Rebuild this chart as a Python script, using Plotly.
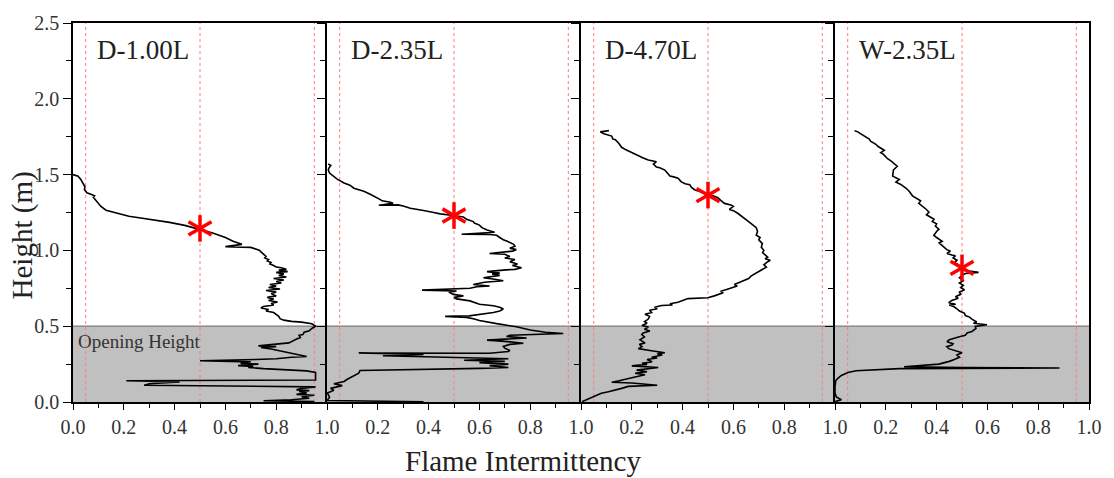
import plotly.graph_objects as go

# ---------------- data: (intermittency, height [m]) ----------------
panel_labels = ["D-1.00L", "D-2.35L", "D-4.70L", "W-2.35L"]

d100 = [(0.00, 1.50), (0.02, 1.49), (0.03, 1.47), (0.04, 1.44), (0.047, 1.42), (0.045, 1.40), (0.055, 1.38),
        (0.07, 1.37), (0.085, 1.36), (0.08, 1.35), (0.09, 1.33), (0.10, 1.31), (0.11, 1.29), (0.13, 1.265),
        (0.16, 1.25), (0.20, 1.235), (0.22, 1.225), (0.26, 1.215), (0.32, 1.20), (0.38, 1.185), (0.44, 1.165),
        (0.50, 1.14), (0.55, 1.115), (0.60, 1.085), (0.63, 1.06), (0.665, 1.04), (0.60, 1.025), (0.70, 1.02),
        (0.72, 1.01), (0.735, 1.00), (0.74, 0.99), (0.745, 0.98), (0.75, 0.975), (0.76, 0.96), (0.755, 0.95),
        (0.77, 0.94), (0.765, 0.93), (0.78, 0.92), (0.775, 0.91), (0.79, 0.90), (0.80, 0.89), (0.82, 0.885),
        (0.84, 0.875), (0.81, 0.87), (0.845, 0.86), (0.80, 0.855), (0.83, 0.845), (0.81, 0.835), (0.84, 0.825),
        (0.79, 0.815), (0.83, 0.805), (0.80, 0.795), (0.82, 0.785), (0.775, 0.775), (0.80, 0.765), (0.77, 0.755),
        (0.815, 0.745), (0.76, 0.735), (0.80, 0.725), (0.78, 0.715), (0.80, 0.70), (0.765, 0.69), (0.79, 0.68),
        (0.77, 0.67), (0.805, 0.66), (0.78, 0.65), (0.79, 0.64), (0.75, 0.63), (0.74, 0.62), (0.77, 0.61),
        (0.76, 0.60), (0.79, 0.59), (0.80, 0.58), (0.81, 0.565), (0.815, 0.55), (0.83, 0.54), (0.86, 0.532),
        (0.90, 0.527), (0.94, 0.516), (0.955, 0.50), (0.94, 0.485), (0.93, 0.47), (0.91, 0.46), (0.905, 0.445),
        (0.89, 0.44), (0.895, 0.425), (0.88, 0.415), (0.86, 0.40), (0.85, 0.39), (0.82, 0.385), (0.76, 0.375),
        (0.73, 0.37), (0.80, 0.365), (0.74, 0.36), (0.78, 0.35), (0.81, 0.34), (0.83, 0.335), (0.87, 0.32),
        (0.92, 0.30), (0.86, 0.295), (0.80, 0.285), (0.72, 0.28), (0.50, 0.272), (0.70, 0.265), (0.66, 0.255),
        (0.73, 0.25), (0.65, 0.24), (0.71, 0.235), (0.69, 0.228), (0.75, 0.22), (0.85, 0.21), (0.92, 0.205),
        (0.955, 0.195), (0.955, 0.16), (0.955, 0.145), (0.21, 0.14), (0.42, 0.132), (0.30, 0.12), (0.28, 0.11),
        (0.955, 0.10), (0.90, 0.09), (0.88, 0.08), (0.93, 0.075), (0.89, 0.07), (0.92, 0.06), (0.88, 0.05),
        (0.95, 0.045), (0.90, 0.035), (0.93, 0.025), (0.86, 0.015), (0.75, 0.008), (0.95, 0.003)]

d235 = [(0.005, 1.57), (0.015, 1.56), (0.008, 1.545), (0.005, 1.53), (0.01, 1.51), (0.027, 1.49), (0.04, 1.47),
        (0.067, 1.445), (0.09, 1.43), (0.106, 1.41), (0.13, 1.40), (0.145, 1.39), (0.17, 1.37), (0.197, 1.35),
        (0.21, 1.335), (0.217, 1.327), (0.25, 1.318), (0.26, 1.31), (0.204, 1.298), (0.28, 1.30), (0.30, 1.293),
        (0.328, 1.278), (0.36, 1.27), (0.38, 1.263), (0.42, 1.25), (0.446, 1.241), (0.497, 1.23), (0.537, 1.22),
        (0.55, 1.205), (0.576, 1.19), (0.58, 1.18), (0.60, 1.167), (0.61, 1.15), (0.63, 1.135), (0.66, 1.12),
        (0.53, 1.107), (0.64, 1.105), (0.668, 1.10), (0.68, 1.085), (0.694, 1.07), (0.71, 1.06), (0.72, 1.05),
        (0.735, 1.04), (0.74, 1.028), (0.72, 1.015), (0.745, 1.005), (0.73, 0.995), (0.64, 0.98), (0.70, 0.975),
        (0.72, 0.96), (0.70, 0.95), (0.74, 0.94), (0.72, 0.925), (0.75, 0.91), (0.73, 0.90), (0.766, 0.885),
        (0.74, 0.875), (0.694, 0.87), (0.63, 0.86), (0.68, 0.85), (0.65, 0.845), (0.68, 0.835), (0.616, 0.82),
        (0.66, 0.81), (0.694, 0.80), (0.62, 0.79), (0.576, 0.775), (0.64, 0.765), (0.59, 0.76), (0.563, 0.75),
        (0.374, 0.738), (0.51, 0.732), (0.48, 0.725), (0.497, 0.71), (0.537, 0.70), (0.50, 0.69), (0.51, 0.68),
        (0.563, 0.667), (0.58, 0.655), (0.60, 0.645), (0.655, 0.635), (0.68, 0.625), (0.694, 0.613), (0.68, 0.60),
        (0.655, 0.59), (0.60, 0.575), (0.56, 0.568), (0.465, 0.565), (0.55, 0.558), (0.58, 0.548), (0.60, 0.538),
        (0.668, 0.517), (0.746, 0.496), (0.80, 0.475), (0.86, 0.46), (0.93, 0.452), (0.80, 0.445), (0.72, 0.44),
        (0.707, 0.432), (0.786, 0.422), (0.70, 0.415), (0.63, 0.408), (0.70, 0.40), (0.773, 0.388), (0.72, 0.38),
        (0.694, 0.367), (0.70, 0.355), (0.72, 0.34), (0.714, 0.333), (0.64, 0.322), (0.125, 0.323), (0.38, 0.314),
        (0.22, 0.305), (0.35, 0.30), (0.51, 0.292), (0.714, 0.285), (0.54, 0.275), (0.70, 0.268), (0.60, 0.26),
        (0.714, 0.25), (0.64, 0.24), (0.714, 0.228), (0.60, 0.222), (0.13, 0.208), (0.125, 0.19), (0.118, 0.184),
        (0.093, 0.165), (0.08, 0.15), (0.067, 0.135), (0.027, 0.12), (0.06, 0.108), (0.014, 0.09), (0.027, 0.078),
        (0.002, 0.06), (0.01, 0.03), (0.0, 0.01), (0.38, 0.002)]

d470 = [(0.11, 1.79), (0.076, 1.782), (0.09, 1.77), (0.10, 1.765), (0.121, 1.754), (0.125, 1.735), (0.135, 1.73),
        (0.147, 1.71), (0.155, 1.69), (0.16, 1.68), (0.175, 1.665), (0.193, 1.65), (0.21, 1.64), (0.226, 1.626),
        (0.245, 1.61), (0.265, 1.596), (0.297, 1.585), (0.285, 1.57), (0.297, 1.55), (0.31, 1.545), (0.33, 1.53),
        (0.34, 1.51), (0.35, 1.49), (0.365, 1.485), (0.382, 1.476), (0.395, 1.452), (0.41, 1.44), (0.428, 1.434),
        (0.435, 1.415), (0.447, 1.40), (0.47, 1.385), (0.498, 1.37), (0.52, 1.36), (0.539, 1.348), (0.55, 1.33),
        (0.565, 1.31), (0.59, 1.30), (0.60, 1.29), (0.584, 1.27), (0.60, 1.262), (0.617, 1.245), (0.63, 1.23),
        (0.643, 1.21), (0.66, 1.19), (0.675, 1.17), (0.69, 1.15), (0.695, 1.125), (0.69, 1.10), (0.705, 1.085),
        (0.70, 1.07), (0.714, 1.045), (0.71, 1.02), (0.72, 1.00), (0.715, 0.985), (0.725, 0.97), (0.735, 0.955),
        (0.725, 0.945), (0.745, 0.935), (0.73, 0.92), (0.72, 0.905), (0.73, 0.89), (0.715, 0.875), (0.701, 0.86),
        (0.69, 0.85), (0.669, 0.83), (0.66, 0.815), (0.636, 0.80), (0.62, 0.79), (0.604, 0.775), (0.615, 0.765),
        (0.591, 0.75), (0.57, 0.74), (0.55, 0.73), (0.56, 0.72), (0.525, 0.70), (0.499, 0.688), (0.421, 0.682),
        (0.40, 0.67), (0.382, 0.658), (0.35, 0.648), (0.36, 0.64), (0.317, 0.637), (0.29, 0.625), (0.30, 0.615),
        (0.27, 0.605), (0.278, 0.59), (0.252, 0.579), (0.27, 0.565), (0.265, 0.547), (0.25, 0.53), (0.26, 0.52),
        (0.24, 0.505), (0.265, 0.495), (0.25, 0.48), (0.271, 0.468), (0.245, 0.455), (0.239, 0.445), (0.25, 0.43),
        (0.232, 0.41), (0.252, 0.39), (0.23, 0.38), (0.24, 0.365), (0.226, 0.352), (0.271, 0.34), (0.33, 0.325),
        (0.30, 0.318), (0.32, 0.31), (0.278, 0.295), (0.30, 0.29), (0.26, 0.28), (0.28, 0.265), (0.24, 0.255),
        (0.26, 0.248), (0.20, 0.238), (0.304, 0.228), (0.219, 0.21), (0.26, 0.20), (0.213, 0.19), (0.252, 0.18),
        (0.213, 0.165), (0.18, 0.15), (0.15, 0.14), (0.121, 0.13), (0.20, 0.125), (0.30, 0.11), (0.186, 0.103),
        (0.16, 0.09), (0.13, 0.08), (0.108, 0.068), (0.08, 0.058), (0.063, 0.045), (0.045, 0.035), (0.03, 0.024),
        (0.015, 0.01), (0.004, 0.002)]

w235 = [(0.077, 1.79), (0.09, 1.782), (0.10, 1.77), (0.122, 1.75), (0.135, 1.735), (0.14, 1.72), (0.161, 1.70),
        (0.17, 1.685), (0.194, 1.66), (0.18, 1.645), (0.19, 1.635), (0.207, 1.605), (0.22, 1.59), (0.245, 1.555),
        (0.23, 1.53), (0.227, 1.49), (0.253, 1.468), (0.24, 1.45), (0.259, 1.435), (0.28, 1.41), (0.292, 1.39),
        (0.305, 1.36), (0.32, 1.345), (0.337, 1.327), (0.33, 1.31), (0.35, 1.285), (0.36, 1.27), (0.37, 1.252),
        (0.36, 1.235), (0.375, 1.22), (0.39, 1.205), (0.383, 1.19), (0.40, 1.175), (0.395, 1.16), (0.409, 1.14),
        (0.40, 1.125), (0.389, 1.10), (0.40, 1.085), (0.422, 1.06), (0.41, 1.05), (0.428, 1.02), (0.44, 1.005),
        (0.454, 0.996), (0.441, 0.98), (0.46, 0.97), (0.474, 0.964), (0.465, 0.95), (0.48, 0.935), (0.47, 0.92),
        (0.487, 0.905), (0.495, 0.89), (0.50, 0.87), (0.565, 0.855), (0.513, 0.848), (0.50, 0.835), (0.49, 0.82),
        (0.505, 0.80), (0.49, 0.785), (0.505, 0.77), (0.495, 0.755), (0.51, 0.74), (0.49, 0.725), (0.495, 0.71),
        (0.474, 0.695), (0.485, 0.685), (0.46, 0.67), (0.448, 0.655), (0.475, 0.645), (0.45, 0.64), (0.467, 0.63),
        (0.48, 0.615), (0.49, 0.60), (0.51, 0.585), (0.513, 0.57), (0.53, 0.56), (0.539, 0.547), (0.558, 0.528),
        (0.545, 0.52), (0.598, 0.51), (0.552, 0.498), (0.555, 0.485), (0.539, 0.465), (0.52, 0.455), (0.513, 0.44),
        (0.49, 0.43), (0.474, 0.42), (0.45, 0.41), (0.441, 0.398), (0.465, 0.385), (0.461, 0.376), (0.44, 0.365),
        (0.448, 0.352), (0.474, 0.338), (0.50, 0.325), (0.48, 0.31), (0.49, 0.295), (0.47, 0.28), (0.45, 0.268),
        (0.409, 0.25), (0.272, 0.233), (0.513, 0.227), (0.884, 0.224), (0.253, 0.22), (0.174, 0.215),
        (0.083, 0.206), (0.051, 0.195), (0.025, 0.175), (0.01, 0.155), (0.003, 0.14), (0.0, 0.10), (0.0, 0.06),
        (0.005, 0.034), (0.025, 0.015), (0.0, 0.002)]

star_x = [0.5, 0.5, 0.5, 0.5]
star_h = [1.145, 1.23, 1.365, 0.885]

ref_lines = [0.05, 0.5, 0.95]
opening_height = 0.5

x_ticks = [0.0, 0.2, 0.4, 0.6, 0.8, 1.0]
x_minor = [0.1, 0.3, 0.5, 0.7, 0.9]
y_ticks = [0.0, 0.5, 1.0, 1.5, 2.0, 2.5]
y_minor = [0.25, 0.75, 1.25, 1.75, 2.25]

# ---------------- figure ----------------
series = [d100, d235, d470, w235]

FONT = "Liberation Serif, Times New Roman, serif"
TXT = "#222222"

fig = go.Figure()
shapes = []
annotations = []

shapes.append(dict(type="rect", xref="paper", yref="y", x0=0, x1=1, y0=0, y1=opening_height,
                   fillcolor="#c0c0c0", line=dict(width=0), layer="below"))
shapes.append(dict(type="line", xref="paper", yref="y", x0=0, x1=1, y0=opening_height, y1=opening_height,
                   line=dict(color="#7a7a7a", width=1.2), layer="below"))

for i in range(4):
    xa = "x" if i == 0 else f"x{i+1}"
    ya = "y" if i == 0 else f"y{i+1}"
    xv = [p[0] for p in series[i]]
    hv = [p[1] for p in series[i]]
    fig.add_trace(go.Scatter(x=xv, y=hv, mode="lines", xaxis=xa, yaxis=ya,
                             line=dict(color="black", width=1.6), showlegend=False,
                             hoverinfo="skip"))
    for ang in (0, 60, 120):
        fig.add_trace(go.Scatter(x=[star_x[i]], y=[star_h[i]], mode="markers", xaxis=xa, yaxis=ya,
                                 marker=dict(symbol="line-ns-open", size=19, angle=ang, color="red",
                                             line=dict(color="red", width=3.5)),
                                 showlegend=False, hoverinfo="skip"))
    for v in ref_lines:
        shapes.append(dict(type="line", xref=xa, yref=ya, x0=v, x1=v, y0=0, y1=2.5,
                           line=dict(color="#ff7a7a", width=1, dash="dot"), layer="below"))
    annotations.append(dict(text=panel_labels[i], xref=xa, yref=ya, x=0.085, y=2.32,
                            xanchor="left", yanchor="middle", showarrow=False,
                            font=dict(family=FONT, size=27, color=TXT)))

    xkey = "xaxis" if i == 0 else f"xaxis{i+1}"
    ykey = "yaxis" if i == 0 else f"yaxis{i+1}"
    ttext = [f"{t:.1f}" for t in x_ticks]
    if i > 0:
        ttext[0] = ""
    fig.layout[xkey] = dict(
        domain=[i / 4, (i + 1) / 4], range=[0, 1], anchor=ya,
        tickmode="array", tickvals=x_ticks, ticktext=ttext,
        ticks="outside", ticklen=6, tickwidth=1.3, tickcolor="black",
        minor=dict(tickmode="array", tickvals=x_minor, ticks="outside", ticklen=4,
                   tickwidth=1.1, tickcolor="black"),
        showline=True, linecolor="black", linewidth=1.5, mirror=True,
        showgrid=False, zeroline=False,
        tickfont=dict(family=FONT, size=20, color="#333333"))
    fig.layout[ykey] = dict(
        domain=[0, 1], range=[0, 2.5], anchor=xa,
        tickmode="array", tickvals=y_ticks, ticktext=[f"{t:.1f}" for t in y_ticks],
        ticks="outside", ticklen=8, tickwidth=1.3, tickcolor="black",
        minor=dict(tickmode="array", tickvals=y_minor, ticks="outside", ticklen=5,
                   tickwidth=1.1, tickcolor="black"),
        showticklabels=(i == 0),
        showline=True, linecolor="black", linewidth=1.5, mirror=(i == 3),
        showgrid=False, zeroline=False,
        tickfont=dict(family=FONT, size=20, color="#333333"))

annotations.append(dict(text="Opening Height", xref="x", yref="y", x=0.012, y=0.40,
                        xanchor="left", yanchor="middle", showarrow=False,
                        font=dict(family=FONT, size=19, color="#333333")))
annotations.append(dict(text="Flame Intermittency", xref="paper", yref="paper", x=0.443, y=-0.155,
                        xanchor="center", yanchor="middle", showarrow=False,
                        font=dict(family=FONT, size=29, color=TXT)))
annotations.append(dict(text="Height (m)", xref="paper", yref="paper", x=-0.05, y=0.44,
                        xanchor="center", yanchor="middle", textangle=-90, showarrow=False,
                        font=dict(family=FONT, size=29, color=TXT)))

fig.update_layout(
    width=1114, height=478,
    margin=dict(l=73, r=18, t=13, b=76),
    paper_bgcolor="white", plot_bgcolor="white",
    shapes=shapes, annotations=annotations,
    showlegend=False,
)

fig.write_html("out.html")
